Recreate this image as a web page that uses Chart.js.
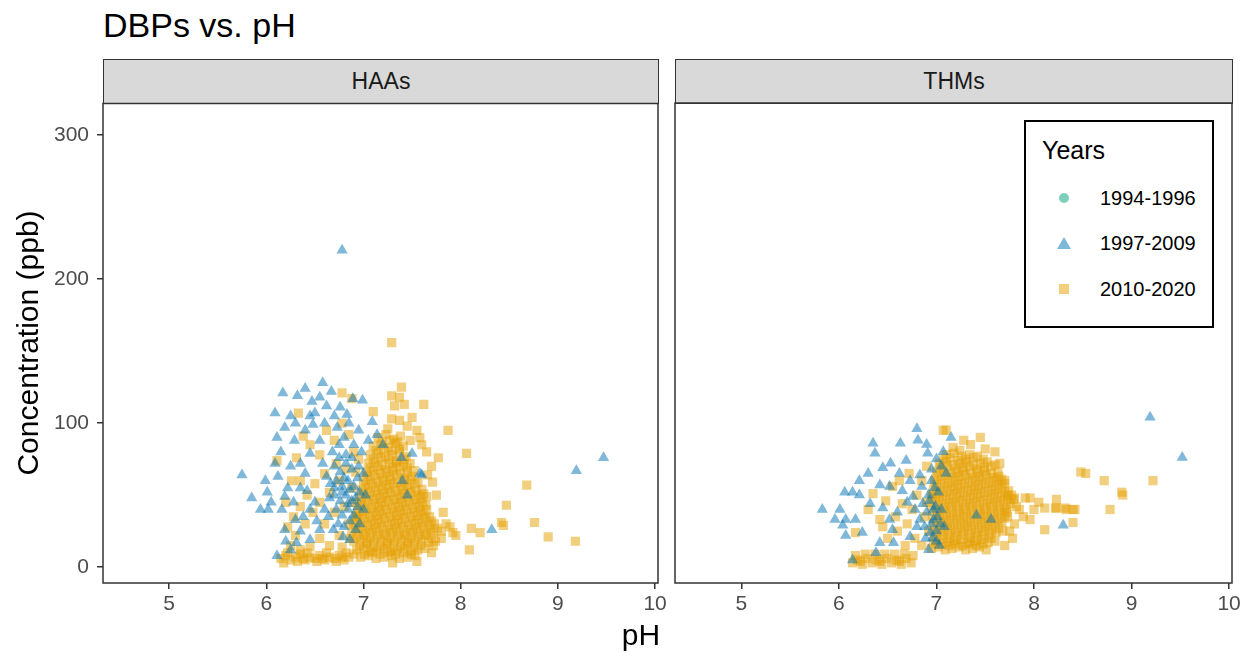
<!DOCTYPE html>
<html>
<head>
<meta charset="utf-8">
<script src="https://cdn.jsdelivr.net/npm/chart.js@4"></script>
<style>
  body { margin: 0; background: #fff; font-family: "Liberation Sans", Arial, sans-serif; }
  #page { position: relative; width: 1250px; height: 656px; overflow: hidden; }
  .abs { position: absolute; }
  .strip { position: absolute; top: 59px; height: 45px; box-sizing: border-box; background: #d9d9d9;
           border: 1.5px solid #333; color: #1a1a1a; font-size: 23px; line-height: 42px; text-align: center; }
  #legend { position: absolute; left: 1024px; top: 120px; width: 190px; height: 208px; box-sizing: border-box;
            border: 2px solid #000; background: #fff; }
</style>
</head>
<body>
<div id="page">
  <div class="abs" style="left:103px;top:8px;font-size:34px;line-height:34px;color:#000">DBPs vs. pH</div>
  <div class="strip" style="left:103px;width:556px" id="strip0"></div>
  <div class="strip" style="left:675px;width:558px" id="strip1"></div>
  <div class="abs" style="left:0;top:97px;width:678px;height:526px"><canvas id="haaChart"></canvas></div>
  <div class="abs" style="left:672px;top:100px;width:575px;height:523px"><canvas id="thmChart"></canvas></div>
  <div class="abs" style="left:-122px;top:328px;width:300px;text-align:center;font-size:30px;line-height:30px;transform:rotate(-90deg)">Concentration (ppb)</div>
  <div class="abs" style="left:541px;top:620px;width:200px;text-align:center;font-size:30px;line-height:30px">pH</div>
  <div id="legend"></div>
</div>
<script>
// panels, legend groups and tick labels
const panels = ['HAAs', 'THMs'];
const yearGroups = ['1994-1996', '1997-2009', '2010-2020'];
const xTicks = [5, 6, 7, 8, 9, 10];
const yTicks = [0, 100, 200, 300];

// HAAs, 1994-1996 (no points shown)
const haaOld = [];
// HAAs, 1997-2009 [pH, ppb]
const haaMid = [
  [6.78,220],[9.19,67],[9.47,76],[8.32,26],[7.58,65],
  [6.58,128],[6.40,124],[6.17,121],[6.32,119],[6.47,115],[6.67,122],[6.99,116],[6.89,117],[6.09,107],[6.19,97],
  [6.50,107],[6.11,90],[6.29,88],[6.48,99],[6.73,97],[6.83,106],[6.76,111],[7.09,101],[6.62,112],[6.55,118],[6.85,100],[6.95,95],
  [5.75,64],[5.85,48],[5.99,60],[6.01,52],[5.94,40],[6.02,40],[6.16,40],[6.09,72],[6.12,63],[6.19,49],[6.30,33],[6.19,26],
  [6.11,8],[6.05,45],[6.22,55],[6.25,70],[6.15,80],[6.20,18],[6.25,12],[6.35,25],
  [7.39,76],[7.50,79],[7.60,64],[7.14,92],[7.20,85],[7.05,88],[7.45,50],[7.40,60],
  [6.45,79],[6.55,88],[6.58,72],[6.62,63],[6.42,53],[6.31,17],[6.45,19],[6.55,26],[6.38,35],[6.69,26],[6.79,21],[6.86,19],
  [6.40,65],[6.35,72],[6.50,45],[6.35,55],[6.28,45],[6.45,40],[6.52,32],[6.60,40],[6.65,48],[6.70,55],[6.68,80],[6.75,85],
  [6.80,90],[6.90,85],[6.95,70],[6.60,100],[6.40,95],[6.30,100],[6.70,105],[6.45,105],[6.25,105],
  [6.70,70],[6.76,66],[6.82,72],[6.88,68],[6.94,62],[6.72,60],[6.78,56],[6.84,60],[6.90,56],[6.96,52],[6.70,50],[6.76,46],
  [6.82,50],[6.88,46],[6.94,42],[6.72,40],[6.78,36],[6.84,40],[6.90,36],[6.96,30],[6.74,30],[6.80,28],[6.86,32],[6.92,26],
  [6.82,78],[6.88,76],[6.75,76],[7.00,65],[7.02,50],[7.00,40],[6.98,80],[6.66,58],[6.64,35],[6.80,62],[6.86,54],[6.92,48],
  [6.84,44],[6.78,52]
];
// HAAs, 2010-2020 [pH, ppb]
const haaNew = [
  [7.29,156],[7.39,125],[7.29,119],[7.37,118],[7.42,113],[7.32,112],[7.62,113],[7.87,95],[8.06,79],[7.77,76],[7.58,90],[7.60,85],
  [7.50,104],[7.29,103],[7.37,102],[7.10,108],[6.78,121],[6.88,117],[6.33,107],[6.38,91],[6.11,74],[6.31,76],[6.35,60],
  [7.71,59],[8.68,57],[8.47,43],[8.76,31],[8.42,31],[8.44,29],[8.90,21],[9.18,18],[8.11,27],[8.20,24],[8.09,12],[7.89,28],
  [7.92,24],[7.72,15],[7.45,98],[7.25,96],[7.55,95],[7.48,88],[7.65,80],[7.70,70],[7.66,64],[7.75,50],[7.82,38],[7.85,30],
  [7.95,22],[7.80,20],[7.70,10],[7.30,3],[7.55,4],
  [6.45,85],[6.55,78],[6.62,95],[6.70,88],[6.78,100],[6.85,92],[6.90,80],[6.72,72],[6.60,65],[6.50,58],[6.42,50],[6.35,42],
  [6.28,35],[6.22,28],[6.30,22],[6.40,30],[6.48,38],[6.55,45],[6.65,52],[6.75,60],[6.82,68],[6.88,55],[6.60,30],[6.70,38],
  [6.80,42],[6.85,30],[6.75,22],[6.65,15],[6.55,20],[6.45,14],[6.35,12],[6.25,15],[6.20,45],[6.26,60],[6.90,45],[6.93,35],
  [6.86,20],[6.78,14],[6.92,66],[6.95,75],
  [6.15,6],[6.20,8],[6.25,5],[6.30,7],[6.35,9],[6.40,5],[6.45,7],[6.50,6],[6.55,8],[6.60,5],[6.65,7],[6.70,6],[6.75,8],
  [6.80,5],[6.85,7],[6.22,10],[6.32,4],[6.42,10],[6.52,4],[6.62,10],[6.72,4],[6.82,10],[6.18,3],[6.38,6],[6.58,6],[6.78,7],[6.90,9],
  [7.15,90],[7.23,92],[7.31,89],[7.38,91],
  [7.10,84],[7.18,85],[7.26,83],[7.33,86],[7.41,84],
  [7.07,78],[7.15,79],[7.22,77],[7.30,78],[7.37,80],[7.44,77],
  [7.05,72],[7.12,73],[7.19,71],[7.27,72],[7.34,73],[7.41,71],[7.48,72],
  [7.03,66],[7.10,67],[7.17,65],[7.24,66],[7.31,67],[7.38,65],[7.45,66],[7.52,67],
  [7.00,60],[7.07,61],[7.14,59],[7.21,60],[7.28,61],[7.35,59],[7.42,60],[7.49,61],[7.56,59],
  [6.98,54],[7.05,55],[7.12,53],[7.19,54],[7.26,55],[7.33,53],[7.40,54],[7.47,55],[7.54,53],[7.60,54],
  [6.96,48],[7.03,49],[7.10,47],[7.17,48],[7.24,49],[7.31,47],[7.38,48],[7.45,49],[7.52,47],[7.59,48],[7.65,49],
  [6.94,42],[7.01,43],[7.08,41],[7.15,42],[7.22,43],[7.29,41],[7.36,42],[7.43,43],[7.50,41],[7.57,42],[7.64,43],
  [6.92,36],[6.99,37],[7.06,35],[7.13,36],[7.20,37],[7.27,35],[7.34,36],[7.41,37],[7.48,35],[7.55,36],[7.62,37],[7.68,35],
  [6.90,30],[6.97,31],[7.04,29],[7.11,30],[7.18,31],[7.25,29],[7.32,30],[7.39,31],[7.46,29],[7.53,30],[7.60,31],[7.67,29],[7.73,30],
  [6.88,24],[6.95,25],[7.02,23],[7.09,24],[7.16,25],[7.23,23],[7.30,24],[7.37,25],[7.44,23],[7.51,24],[7.58,25],[7.65,23],[7.72,24],[7.80,25],
  [6.90,18],[6.97,19],[7.04,17],[7.11,18],[7.18,19],[7.25,17],[7.32,18],[7.39,19],[7.46,17],[7.53,18],[7.60,19],[7.67,17],[7.74,18],
  [6.93,12],[7.00,13],[7.07,11],[7.14,12],[7.21,13],[7.28,11],[7.35,12],[7.42,13],[7.49,11],[7.56,12],[7.63,13],
  [6.97,7],[7.05,8],[7.13,6],[7.21,7],[7.29,8],[7.37,6],[7.45,7],[7.53,8],
  [7.19,87],[7.27,88],[7.35,87],
  [7.13,81],[7.21,82],[7.29,81],[7.37,82],
  [7.10,75],[7.18,76],[7.26,75],[7.34,74],[7.42,75],
  [7.07,69],[7.15,70],[7.22,68],[7.30,69],[7.37,70],[7.45,69],
  [7.04,63],[7.12,64],[7.19,62],[7.27,63],[7.34,64],[7.42,62],[7.50,63],
  [7.02,57],[7.09,58],[7.16,56],[7.24,57],[7.31,58],[7.38,56],[7.45,57],[7.53,58],
  [7.00,51],[7.07,52],[7.14,50],[7.21,51],[7.28,52],[7.35,50],[7.42,51],[7.49,52],[7.56,50],[7.62,51],
  [6.98,45],[7.05,46],[7.12,44],[7.19,45],[7.26,46],[7.33,44],[7.40,45],[7.47,46],[7.54,44],[7.61,45],
  [6.96,39],[7.03,40],[7.10,38],[7.17,39],[7.24,40],[7.31,38],[7.38,39],[7.45,40],[7.52,38],[7.59,39],[7.65,40],
  [6.94,33],[7.01,34],[7.08,32],[7.15,33],[7.22,34],[7.29,32],[7.36,33],[7.43,34],[7.50,32],[7.57,33],[7.64,34],[7.70,32],
  [6.92,27],[6.99,28],[7.06,26],[7.13,27],[7.20,28],[7.27,26],[7.34,27],[7.41,28],[7.48,26],[7.55,27],[7.62,28],[7.69,26],[7.76,27],
  [6.93,21],[7.00,22],[7.07,20],[7.14,21],[7.21,22],[7.28,20],[7.35,21],[7.42,22],[7.49,20],[7.56,21],[7.63,22],[7.70,20],
  [6.96,15],[7.03,16],[7.10,14],[7.17,15],[7.24,16],[7.31,14],[7.38,15],[7.45,16],[7.52,14],[7.59,15],
  [7.01,9],[7.09,10],[7.17,9],[7.25,10],[7.33,9],[7.41,10],[7.49,9]
];

// THMs, 1994-1996 (no points shown)
const thmOld = [];
// THMs, 1997-2009 [pH, ppb]
const thmMid = [
  [9.19,104],[9.52,76],[8.30,29],[7.41,36],[7.56,33],[7.15,90],
  [6.80,96],[6.35,86],[6.63,86],[6.81,88],[6.37,79],[6.53,72],[6.69,74],[6.91,79],[7.07,80],[6.30,65],[6.45,69],[6.21,60],
  [6.06,52],[6.14,52],[5.83,40],[6.01,40],[5.96,33],[6.07,33],[6.17,33],[6.07,22],[6.24,24],[6.04,29],[6.42,17],[6.56,17],
  [6.38,10],[6.14,5],[6.21,50],[6.32,44],[6.45,41],[6.52,33],[6.42,57],[6.52,56],[6.62,65],[6.73,60],[6.83,64],[6.65,53],
  [6.76,49],[6.83,33],[6.73,21],[6.55,26],
  [6.93,46],[6.97,40],[7.01,35],[6.95,30],[7.00,25],[6.96,20],[7.03,15],[6.92,12],[6.99,42],[7.04,30],[6.90,38],[6.94,24],
  [7.02,52],[6.98,55],[6.88,28],[6.86,44],[6.92,50],[7.05,40],[7.00,18],[6.97,33],[6.89,20],[7.08,28],[6.95,60],[7.10,65],
  [7.05,70],[6.85,56],[6.78,40],[6.80,28],[6.95,68],[7.00,75],[6.90,85],[6.70,45],[6.60,38]
];
// THMs, 2010-2020 [pH, ppb]
const thmNew = [
  [8.53,65],[8.72,60],[8.90,52],[8.91,50],[9.22,60],[8.78,40],[8.23,47],[8.23,41],[8.32,41],[8.40,40],[8.40,31],[8.48,66],
  [8.11,41],[8.22,41],[8.33,40],[8.42,40],[8.11,26],[7.91,48],[7.96,48],[7.73,50],[7.79,47],[7.65,72],[7.45,90],[7.10,95],
  [7.07,95],[7.17,83],[7.24,81],[7.89,35],[7.96,33],[7.85,40],[7.80,30],[7.75,25],[8.00,40],[8.05,45],[7.70,60],[7.60,80],
  [7.50,82],[7.35,85],[7.28,88],[7.72,38],[7.78,20],[7.70,15],
  [6.35,51],[6.17,24],[6.42,33],[6.58,35],[6.48,46],[6.65,44],[6.55,56],[6.60,25],[6.70,30],[6.75,40],[6.80,50],[6.85,60],
  [6.72,65],[6.62,60],[6.50,20],[6.45,28],[6.30,40],[6.90,70],[6.95,50],[6.88,35],[6.92,25],[6.85,15],[6.78,20],[6.68,15],[6.90,45],
  [6.14,3],[6.19,5],[6.24,2],[6.29,6],[6.34,3],[6.39,5],[6.44,2],[6.49,6],[6.54,3],[6.59,5],[6.64,2],[6.69,6],[6.74,3],
  [6.17,8],[6.27,9],[6.37,9],[6.47,9],[6.57,9],[6.67,9],[6.76,8],[6.22,4],[6.42,4],[6.62,4],
  [7.10,78],[7.18,79],[7.26,77],[7.34,78],[7.42,77],
  [7.03,72],[7.10,73],[7.17,71],[7.24,72],[7.31,73],[7.38,71],[7.45,72],[7.52,73],[7.60,71],
  [7.00,66],[7.07,67],[7.14,65],[7.21,66],[7.28,67],[7.35,65],[7.42,66],[7.49,67],[7.56,65],[7.63,66],
  [6.98,60],[7.05,61],[7.12,59],[7.19,60],[7.26,61],[7.33,59],[7.40,60],[7.47,61],[7.54,59],[7.61,60],[7.67,61],
  [6.97,54],[7.04,55],[7.11,53],[7.18,54],[7.25,55],[7.32,53],[7.39,54],[7.46,55],[7.53,53],[7.60,54],[7.67,55],[7.74,53],
  [6.96,48],[7.03,49],[7.10,47],[7.17,48],[7.24,49],[7.31,47],[7.38,48],[7.45,49],[7.52,47],[7.59,48],[7.66,49],[7.73,47],[7.80,48],
  [6.95,42],[7.02,43],[7.09,41],[7.16,42],[7.23,43],[7.30,41],[7.37,42],[7.44,43],[7.51,41],[7.58,42],[7.65,43],[7.72,41],[7.82,42],
  [6.96,36],[7.03,37],[7.10,35],[7.17,36],[7.24,37],[7.31,35],[7.38,36],[7.45,37],[7.52,35],[7.59,36],[7.66,37],[7.73,35],
  [6.97,30],[7.04,31],[7.11,29],[7.18,30],[7.25,31],[7.32,29],[7.39,30],[7.46,31],[7.53,29],[7.60,30],[7.67,31],
  [6.98,24],[7.05,25],[7.12,23],[7.19,24],[7.26,25],[7.33,23],[7.40,24],[7.47,25],[7.54,23],[7.61,24],[7.68,25],
  [6.97,18],[7.04,19],[7.11,17],[7.18,18],[7.25,19],[7.32,17],[7.39,18],[7.46,19],[7.53,17],[7.60,18],
  [6.95,13],[7.02,14],[7.09,12],[7.16,13],[7.23,14],[7.30,12],[7.37,13],[7.44,14],[7.51,12],
  [7.07,75],[7.14,76],[7.22,74],[7.30,75],[7.38,76],[7.48,75],
  [7.04,69],[7.11,70],[7.19,68],[7.27,69],[7.34,70],[7.41,68],[7.49,69],[7.56,70],
  [7.01,63],[7.09,64],[7.16,62],[7.23,63],[7.30,64],[7.37,62],[7.44,63],[7.51,64],[7.58,62],[7.64,63],
  [7.00,57],[7.08,58],[7.15,56],[7.22,57],[7.29,58],[7.36,56],[7.43,57],[7.50,58],[7.57,56],[7.64,57],[7.70,58],
  [7.00,51],[7.07,52],[7.14,50],[7.21,51],[7.28,52],[7.35,50],[7.42,51],[7.49,52],[7.56,50],[7.63,51],[7.70,52],[7.77,50],
  [6.99,45],[7.06,46],[7.13,44],[7.20,45],[7.27,46],[7.34,44],[7.41,45],[7.48,46],[7.55,44],[7.62,45],[7.69,46],[7.76,44],
  [7.00,39],[7.07,40],[7.14,38],[7.21,39],[7.28,40],[7.35,38],[7.42,39],[7.49,40],[7.56,38],[7.63,39],[7.70,40],
  [7.00,33],[7.07,34],[7.14,32],[7.21,33],[7.28,34],[7.35,32],[7.42,33],[7.49,34],[7.56,32],[7.63,33],[7.70,34],
  [7.01,27],[7.08,28],[7.15,26],[7.22,27],[7.29,28],[7.36,26],[7.43,27],[7.50,28],[7.57,26],[7.64,27],
  [7.00,21],[7.07,22],[7.14,20],[7.21,21],[7.28,22],[7.35,20],[7.42,21],[7.49,22],[7.56,20],
  [6.99,16],[7.06,16],[7.13,15],[7.20,16],[7.27,15],[7.34,16],[7.41,15],[7.48,16]
];

const groupStyles = [
  { color: 'rgba(0,158,115,0.5)', shape: 'circle' },
  { color: 'rgba(0,114,178,0.5)', shape: 'triangle' },
  { color: 'rgba(230,159,0,0.5)', shape: 'rect' }
];

Chart.defaults.font.family = '"Liberation Sans", Arial, sans-serif';
Chart.defaults.color = '#4d4d4d';

// ggplot-style panel frame
const panelBorder = {
  id: 'panelBorder',
  afterDraw(chart) {
    const { ctx, chartArea: a } = chart;
    ctx.save();
    ctx.strokeStyle = '#333';
    ctx.lineWidth = 1.5;
    ctx.strokeRect(a.left, a.top, a.right - a.left, a.bottom - a.top);
    ctx.restore();
  }
};

function toPoints(arr) {
  return arr.map(p => ({ x: p[0], y: p[1] }));
}

function makeChart(canvasId, series, showY, pad, autoPad) {
  const datasets = series.map((s, i) => ({
    label: yearGroups[i],
    data: toPoints(s),
    pointStyle: groupStyles[i].shape,
    pointRadius: 6.5,
    pointBorderWidth: 0,
    backgroundColor: groupStyles[i].color,
    borderColor: 'rgba(0,0,0,0)'
  }));
  return new Chart(document.getElementById(canvasId), {
    type: 'scatter',
    data: { datasets },
    options: {
      responsive: true,
      maintainAspectRatio: false,
      animation: false,
      events: [],
      layout: { padding: pad, autoPadding: autoPad },
      plugins: { legend: { display: false }, tooltip: { enabled: false } },
      scales: {
        x: {
          type: 'linear',
          min: 4.32, max: 10.03,
          afterBuildTicks: s => { s.ticks = xTicks.map(v => ({ value: v })); },
          afterFit: s => { s.height = 40; s.paddingLeft = 0; s.paddingRight = 0; },
          grid: { drawOnChartArea: false, drawTicks: true, tickLength: 6, color: '#333', lineWidth: 1.5 },
          border: { display: false },
          ticks: { font: { size: 21 }, color: '#4d4d4d', padding: 3, maxRotation: 0 }
        },
        y: {
          type: 'linear',
          display: showY,
          min: -11, max: 322,
          afterBuildTicks: s => { s.ticks = yTicks.map(v => ({ value: v })); },
          afterFit: s => { s.width = showY ? 103 : 0; s.paddingTop = 0; s.paddingBottom = 0; },
          grid: { drawOnChartArea: false, drawTicks: true, tickLength: 6, color: '#333', lineWidth: 1.5 },
          border: { display: false },
          ticks: { font: { size: 21 }, color: '#4d4d4d', padding: 8 }
        }
      }
    },
    plugins: [panelBorder]
  });
}

document.getElementById('strip0').textContent = panels[0];
document.getElementById('strip1').textContent = panels[1];

makeChart('haaChart', [haaOld, haaMid, haaNew], true, { top: 0, right: 20, left: 0, bottom: 0 }, true);
makeChart('thmChart', [thmOld, thmMid, thmNew], false, { top: 3, right: 15, left: 3, bottom: 0 }, false);

// legend
const legend = document.getElementById('legend');
let html = '<div class="abs" style="left:16px;top:14px;font-size:25px;line-height:28px;color:#000">Years</div>';
const rowY = [76, 121, 167];
yearGroups.forEach((g, i) => {
  const c = groupStyles[i].color;
  let sym;
  if (groupStyles[i].shape === 'circle') {
    sym = `<div class="abs" style="left:33px;top:${rowY[i] - 5}px;width:10px;height:10px;border-radius:50%;background:${c}"></div>`;
  } else if (groupStyles[i].shape === 'triangle') {
    sym = `<div class="abs" style="left:31px;top:${rowY[i] - 6}px;width:0;height:0;border-left:7px solid transparent;border-right:7px solid transparent;border-bottom:12px solid ${c}"></div>`;
  } else {
    sym = `<div class="abs" style="left:33px;top:${rowY[i] - 5}px;width:10px;height:10px;background:${c}"></div>`;
  }
  html += sym + `<div class="abs" style="left:74px;top:${rowY[i] - 12}px;font-size:20px;line-height:24px;color:#000">${g}</div>`;
});
legend.innerHTML = html;
</script>
</body>
</html>
